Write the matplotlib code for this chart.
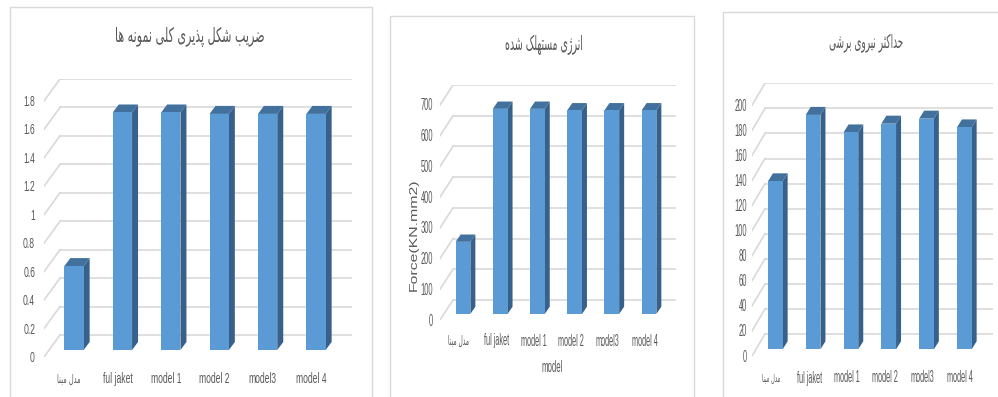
import matplotlib
matplotlib.use("Agg")
import matplotlib.pyplot as plt
from matplotlib import font_manager
from matplotlib.font_manager import FontProperties
from matplotlib.patches import Rectangle
from fontTools.ttLib import TTFont

W, H = 998, 397

categories = ["base", "ful jaket", "model 1", "model 2", "model3", "model 4"]

ductility = [0.59, 1.67, 1.67, 1.66, 1.66, 1.66]
energy = [235, 668, 668, 663, 663, 663]
shear = [134, 187, 173, 180, 184, 177]

ductility_ticks = [0, 0.2, 0.4, 0.6, 0.8, 1, 1.2, 1.4, 1.6, 1.8]
energy_ticks = [0, 100, 200, 300, 400, 500, 600, 700]
shear_ticks = [0, 20, 40, 60, 80, 100, 120, 140, 160, 180, 200]

ductility_title = "ضریب شکل پذیری کلی نمونه ها"
energy_title = "انرژی مستهلک شده"
shear_title = "حداکثر نیروی برشی"
base_label = "مدل مبنا"

FRONT = "#5b9bd5"
SIDE = "#37618a"
TOP = "#41719c"
GRID = "#d9d9d9"
TEXT = "#595959"


def stretched(family, sx, weight="normal"):
    # no condensed faces are installed, so scale the outlines of a normal one
    src = font_manager.findfont(FontProperties(family=family, weight=weight))
    font = TTFont(src)
    glyf = font["glyf"]
    hmtx = font["hmtx"]
    for name in font.getGlyphOrder():
        g = glyf[name]
        if g.isComposite():
            for c in g.components:
                c.x = int(c.x * sx)
        elif g.numberOfContours > 0:
            g.coordinates.scale((sx, 1))
            g.coordinates.toInt()
        adv, lsb = hmtx[name]
        hmtx[name] = (int(adv * sx), int(lsb * sx))
    path = f"{family.replace(' ', '')}_{weight}_{int(sx * 100)}.ttf"
    font.save(path)
    return path


latin_56 = stretched("Liberation Sans", 0.56)
latin_47 = stretched("Liberation Sans", 0.47)
arabic_56 = stretched("DejaVu Sans", 0.56)
arabic_47 = stretched("DejaVu Sans", 0.47)
axis_wide = stretched("Liberation Sans", 1.45)

# isolated, final, initial, medial
forms = {
    "ا": (0xFE8D, 0xFE8E), "د": (0xFEA9, 0xFEAA), "ذ": (0xFEAB, 0xFEAC),
    "ر": (0xFEAD, 0xFEAE), "ژ": (0xFB8A, 0xFB8B), "و": (0xFEED, 0xFEEE),
    "ب": (0xFE8F, 0xFE90, 0xFE91, 0xFE92), "پ": (0xFB56, 0xFB57, 0xFB58, 0xFB59),
    "ت": (0xFE95, 0xFE96, 0xFE97, 0xFE98), "ث": (0xFE99, 0xFE9A, 0xFE9B, 0xFE9C),
    "ح": (0xFEA1, 0xFEA2, 0xFEA3, 0xFEA4), "س": (0xFEB1, 0xFEB2, 0xFEB3, 0xFEB4),
    "ش": (0xFEB5, 0xFEB6, 0xFEB7, 0xFEB8), "ض": (0xFEBD, 0xFEBE, 0xFEBF, 0xFEC0),
    "ک": (0xFB8E, 0xFB8F, 0xFB90, 0xFB91), "ل": (0xFEDD, 0xFEDE, 0xFEDF, 0xFEE0),
    "م": (0xFEE1, 0xFEE2, 0xFEE3, 0xFEE4), "ن": (0xFEE5, 0xFEE6, 0xFEE7, 0xFEE8),
    "ه": (0xFEE9, 0xFEEA, 0xFEEB, 0xFEEC), "ی": (0xFBFC, 0xFBFD, 0xFBFE, 0xFBFF),
}


def shape(s):
    # matplotlib has no arabic shaping, so pick the joined glyphs by hand
    out = []
    for i, c in enumerate(s):
        if c not in forms:
            out.append(c)
            continue
        prev = s[i - 1] if i > 0 else " "
        nxt = s[i + 1] if i < len(s) - 1 else " "
        joins_prev = prev in forms and len(forms[prev]) == 4
        joins_next = nxt in forms and len(forms[c]) == 4
        if joins_prev and joins_next:
            code = forms[c][3]
        elif joins_next:
            code = forms[c][2]
        elif joins_prev:
            code = forms[c][1]
        else:
            code = forms[c][0]
        out.append(chr(code))
    return "".join(out[::-1])


fig = plt.figure(figsize=(W / 100, H / 100), dpi=100, facecolor="white")


def frame(x0, y0, x1, y1):
    fig.add_artist(Rectangle((x0 / W, 1 - y1 / H), (x1 - x0) / W, (y1 - y0) / H,
                             transform=fig.transFigure, fill=False,
                             edgecolor=GRID, linewidth=1))


def panel(values, ticks, title, title_xy, title_size, x0, step, bar_w, base_y, back_y,
          top_y, front_y, scale_top, front_x, back_x, right_x, side_dx, side_dy,
          label_y, tick_x, latin, arabic, tick_size, cat_size, base_size):
    # back wall runs from back_y (zero) to top_y (last tick), floor comes forward to front_y
    scale = (back_y - top_y) / scale_top
    ax = fig.add_axes([front_x / W, 1 - front_y / H, (right_x - front_x) / W,
                       (front_y - top_y) / H])
    ax.set_xlim((front_x - x0) / step, (right_x - x0) / step)
    ax.set_ylim((base_y - front_y) / scale, (base_y - top_y) / scale)
    ax.axis("off")

    back_off = (base_y - back_y) / scale
    front_off = (base_y - front_y) / scale
    xl = ax.get_xlim()[0]
    xb = (back_x - x0) / step
    xr = ax.get_xlim()[1]
    for t in ticks:
        ax.plot([xb, xr], [t + back_off, t + back_off], color=GRID, lw=1.2, zorder=1)
        ax.plot([xl, xb], [t + front_off, t + back_off], color=GRID, lw=1.2, zorder=1)
        ax.annotate(str(t), (xl, t + front_off), xycoords="data",
                    xytext=(tick_x - front_x, -1), textcoords="offset pixels",
                    ha="right", va="center", color=TEXT, annotation_clip=False,
                    fontproperties=FontProperties(fname=latin, size=tick_size))

    dx = side_dx / step
    dy = side_dy / scale
    w = bar_w / step
    pos = list(range(len(values)))
    for i, v in zip(pos, values):
        r = i + w / 2
        l = i - w / 2
        ax.fill([r, r + dx, r + dx, r], [0, dy, v + dy, v], color=SIDE, lw=0, zorder=2)
        ax.fill([l, r, r + dx, l + dx], [v, v, v + dy, v + dy], color=TOP, lw=0, zorder=2)
    ax.bar(pos, values, width=w, color=FRONT, linewidth=0, zorder=3)

    # category names sit on the front edge of the floor, a little left of the bars
    for i, c in zip(pos, categories):
        px = x0 + i * step - (side_dx - 1)
        if i == 0:
            fig.text(px / W, 1 - label_y / H, shape(base_label), ha="center", va="center",
                     color=TEXT, fontproperties=FontProperties(fname=arabic, size=base_size))
        else:
            fig.text(px / W, 1 - label_y / H, c, ha="center", va="center",
                     color=TEXT, fontproperties=FontProperties(fname=latin, size=cat_size))

    fig.text(title_xy[0] / W, 1 - title_xy[1] / H, shape(title), ha="center", va="center",
             color=TEXT, fontproperties=FontProperties(fname=arabic, size=title_size))
    return ax


frame(10, 7, 372, 410)
frame(390, 16, 694, 410)
frame(723, 12, 1010, 410)

panel(ductility, ductility_ticks, ductility_title, (190, 37), 14.3,
      74, 48.4, 19.3, 350, 335, 79, 357, 1.8, 44, 60, 352, 6, 8, 379, 35,
      latin_56, arabic_56, 11, 11, 8.4)
panel(energy, energy_ticks, energy_title, (544, 45), 14.4,
      463, 37.2, 14.7, 314, 300, 85, 320, 700, 440, 453, 676, 5, 7.3, 341, 433,
      latin_47, arabic_47, 11.5, 11.2, 9)
panel(shear, shear_ticks, shear_title, (866, 43), 13.7,
      775.3, 37.8, 14.7, 349.3, 334, 83.3, 356, 200, 752, 765, 993, 5, 8, 378, 747,
      latin_47, arabic_47, 11.5, 11.2, 8)

fig.text(552 / W, 1 - 368 / H, "model", ha="center", va="center", color=TEXT,
         fontproperties=FontProperties(fname=latin_47, size=12))
fig.text(414 / W, 1 - 235 / H, "Force(KN.mm2)", rotation=90, ha="center", va="center",
         color=TEXT, fontproperties=FontProperties(fname=axis_wide, size=7.8))

fig.savefig("out.png", dpi=100)
